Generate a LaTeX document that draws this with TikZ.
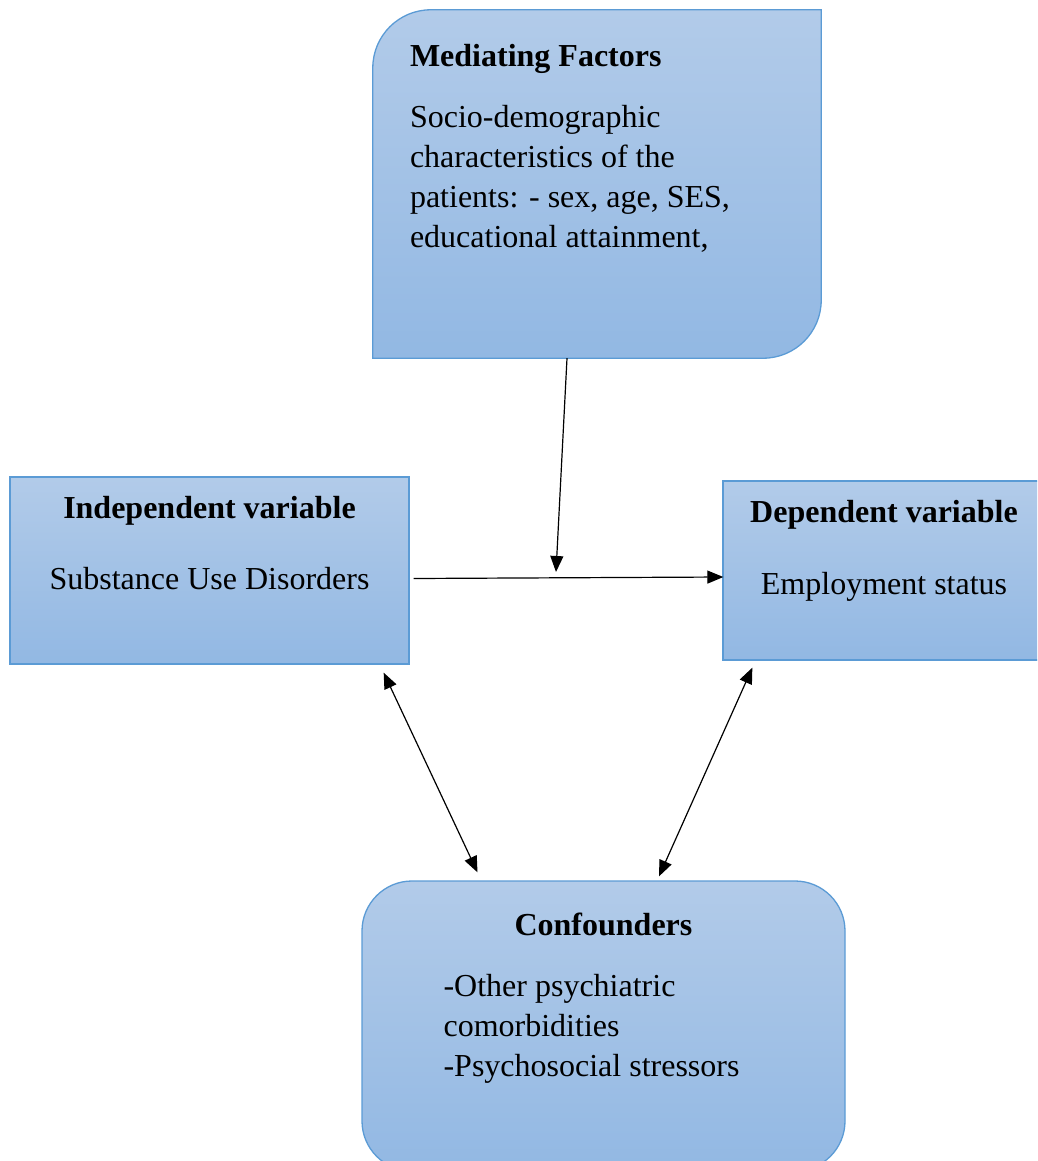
\documentclass[tikz,border=0pt]{standalone}
\usepackage{fontspec}
\setmainfont{Liberation Serif}
\usepackage{tikz}
\usetikzlibrary{arrows.meta,calc}
\definecolor{boxtop}{RGB}{178,203,233}
\definecolor{boxbot}{RGB}{146,184,227}
\definecolor{boxedge}{RGB}{91,155,213}

\begin{document}
\begin{tikzpicture}[x=1pt,y=-1pt,>={Triangle[length=16pt,width=13pt]},
  box/.style={draw=boxedge,line width=1.3pt,top color=boxtop,bottom color=boxbot,inner sep=0pt},
  head/.style={font=\fontsize{32}{40}\selectfont\bfseries,inner sep=0pt},
  body/.style={font=\fontsize{32}{40}\selectfont,inner sep=0pt},
  link/.style={line width=1.2pt}]
        \clip (0,0) rectangle (1037,1161);

        \node[minimum width=448pt,minimum height=348pt,inner sep=0pt] (med) at (597,184) {};
        \node[box,minimum width=399pt,minimum height=187pt] (indep) at (209.5,570.5) {};
        \node[box,minimum width=322pt,minimum height=179pt] (dep) at (884,570.5) {};
        \node[box,rounded corners=50pt,minimum width=483pt,minimum height=290pt] (conf) at (603.5,1026) {};

        \draw[box] (med.south west) -- ([shift={(0,58)}]med.north west)
          .. controls ([shift={(0,26)}]med.north west) and ([shift={(26,0)}]med.north west) .. ([shift={(58,0)}]med.north west)
          -- (med.north east) -- ([shift={(0,-58)}]med.south east)
          .. controls ([shift={(0,-26)}]med.south east) and ([shift={(-26,0)}]med.south east) .. ([shift={(-58,0)}]med.south east)
          -- cycle;

        % multi-line nodes sit on the baseline of their last line
        \node[head,anchor=base west] (medhead) at ([shift={(37,57)}]med.north west) {Mediating Factors};
        \node[body,anchor=base west,align=left] (medtext) at ([shift={(37,238)}]med.north west)
          {Socio-demographic\\characteristics of the\\patients: - sex, age, SES,\\educational attainment,};

        \node[head,anchor=base] (indephead) at ([shift={(0,42)}]indep.north) {Independent variable};
        \node[body,anchor=base] (indeptext) at ([shift={(0,113)}]indep.north) {Substance Use Disorders};

        \node[head,anchor=base] (dephead) at ([shift={(0,42)}]dep.north) {Dependent variable};
        \node[body,anchor=base] (deptext) at ([shift={(0,114)}]dep.north) {Employment status};

        \node[head,anchor=base] (confhead) at ([shift={(0,55)}]conf.north) {Confounders};
        \node[body,anchor=base west,align=left] (conftext) at ([shift={(82,196)}]conf.north west)
          {-Other psychiatric\\comorbidities\\-Psychosocial stressors};

        \coordinate (join) at (556,572);
        \draw[link,->] ([shift={(-30,0)}]med.south) -- (join);
        \draw[link,->] ([shift={(4,8)}]indep.east) -- ([shift={(1,6.5)}]dep.west);
        \draw[link,<->] ([shift={(-26,8)}]indep.south east) -- ([shift={(-126,-8)}]conf.north);
        \draw[link,<->] ([shift={(30,7)}]dep.south west) -- ([shift={(55.5,-4)}]conf.north);
      \end{tikzpicture}
\end{document}
